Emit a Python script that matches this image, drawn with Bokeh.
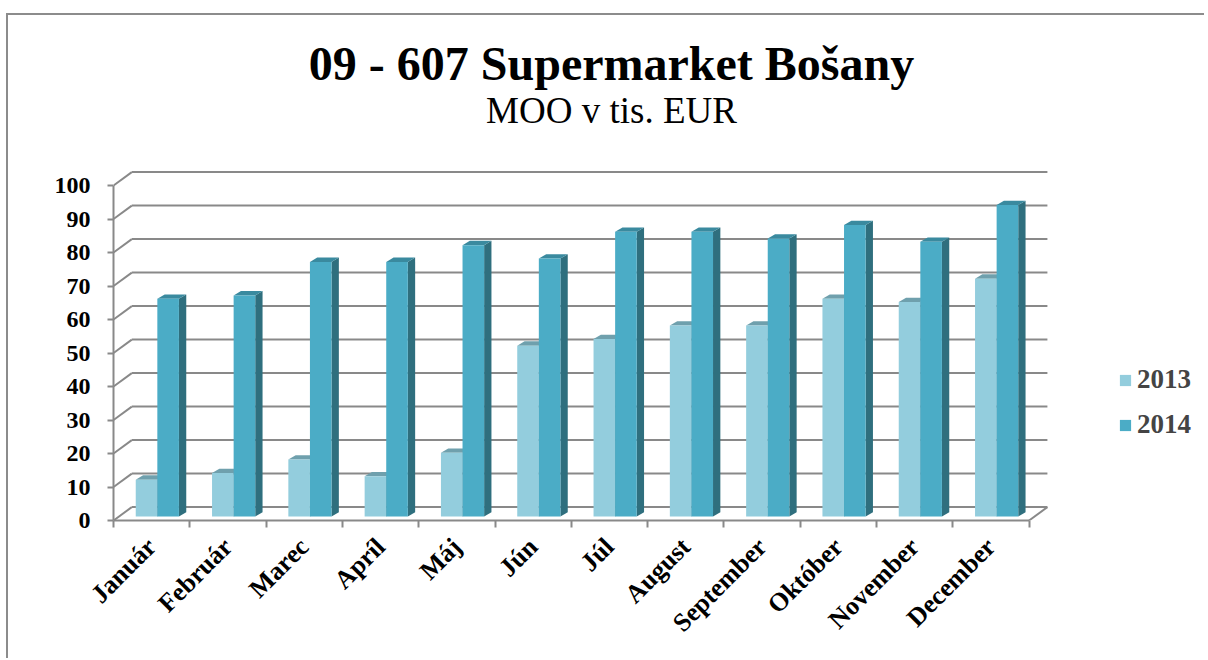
import math
from bokeh.plotting import figure
from bokeh.models import FixedTicker, Legend, LegendItem, Range1d, ColumnDataSource
from bokeh.core.properties import value
from bokeh.embed import file_html
from bokeh.resources import INLINE

# ---------------- data ----------------
months = ["Január", "Február", "Marec", "Apríl", "Máj", "Jún", "Júl",
          "August", "September", "Október", "November", "December"]
v2013 = [11, 13, 17, 12, 19, 51, 53, 57, 57, 65, 64, 71]
v2014 = [65, 66, 76, 76, 81, 77, 85, 85, 83, 87, 82, 93]
y_ticks = [0, 10, 20, 30, 40, 50, 60, 70, 80, 90, 100]
series_names = ["2013", "2014"]
title_text = "09 - 607 Supermarket Bošany"
subtitle_text = "MOO v tis. EUR"

# ---------------- style / geometry ----------------
FONT = "Liberation Serif"
GRID = "#898989"
PX_X, PX_Y = 76.3, 3.35     # pixels per data unit
DX, DY = 0.24, 4.0          # depth of the walls (data units)
BASE = 1.2                  # bar floor height
BW = 0.283                  # bar width
OFF = [-0.067, 0.216]       # bar centre offsets
BDX, BDY = 0.096, 1.28      # bar depth
COL_FRONT = ["#93CDDD", "#4BACC6"]
COL_TOP = ["#6FA0AD", "#3A8A9F"]
COL_SIDE = ["#5E8E9A", "#2F6F7E"]

W, H = 1198, 645
LEFT_B, BOTTOM_B = 105, 140
frame_w = W - LEFT_B
frame_h = H - BOTTOM_B

n = len(months)
idx = list(range(n))

p = figure(width=W, height=H, output_backend="svg", toolbar_location=None,
           title=None,
           x_range=Range1d(-0.5, -0.5 + frame_w / PX_X),
           y_range=Range1d(0, frame_h / PX_Y),
           min_border_left=LEFT_B, min_border_right=0, min_border_top=0,
           min_border_bottom=BOTTOM_B, outline_line_color=None,
           background_fill_color="white", border_fill_color="white")
p.styles = {"margin-top": "13px", "margin-left": "6px",
            "border-left": "2px solid #8c8c8c",
            "border-top": "2px solid #8c8c8c"}
p.xgrid.visible = False
p.ygrid.visible = False

# ---------------- walls / grid ----------------
x_left, x_right = -0.5, n - 0.5
p.segment(x0=[x_left + DX] * len(y_ticks), y0=[t + DY for t in y_ticks],
          x1=[x_right + DX] * len(y_ticks), y1=[t + DY for t in y_ticks],
          line_color=GRID, line_width=2)
p.segment(x0=[x_left] * len(y_ticks), y0=y_ticks,
          x1=[x_left + DX] * len(y_ticks), y1=[t + DY for t in y_ticks],
          line_color=GRID, line_width=2)
p.segment(x0=[x_right], y0=[0], x1=[x_right + DX], y1=[DY],
          line_color=GRID, line_width=2)

# ---------------- bars ----------------
renderers = []
for s, vals in enumerate([v2013, v2014]):
    lefts = [i + OFF[s] - BW / 2 for i in idx]
    rights = [i + OFF[s] + BW / 2 for i in idx]
    tops = [BASE + v for v in vals]
    side_xs = [[r, r + BDX, r + BDX, r] for r in rights]
    side_ys = [[BASE, BASE + BDY, t + BDY, t] for t in tops]
    top_xs = [[l, r, r + BDX, l + BDX] for l, r in zip(lefts, rights)]
    top_ys = [[t, t, t + BDY, t + BDY] for t in tops]
    p.patches(side_xs, side_ys, fill_color=COL_SIDE[s], line_color=None)
    p.patches(top_xs, top_ys, fill_color=COL_TOP[s], line_color=None)
    src = ColumnDataSource(dict(left=lefts, right=rights, top=tops,
                                bottom=[BASE] * n))
    r = p.quad(left="left", right="right", top="top", bottom="bottom",
               source=src, fill_color=COL_FRONT[s], line_color=None)
    renderers.append(r)

# ---------------- titles (placed above the chart walls) ----------------
title_x = -0.5 + (612 - 114) / PX_X
p.text(x=[title_x], y=[(520 - 63) / PX_Y], text=[title_text],
       text_font=value(FONT), text_font_style="bold", text_font_size="48px",
       text_color="black", text_align="center", text_baseline="middle")
p.text(x=[title_x], y=[(520 - 110) / PX_Y], text=[subtitle_text],
       text_font=value(FONT), text_font_style="normal", text_font_size="37px",
       text_color="black", text_align="center", text_baseline="middle")

# ---------------- axes ----------------
xa = p.xaxis[0]
xa.ticker = FixedTicker(ticks=idx, minor_ticks=[i - 0.5 for i in range(n + 1)])
xa.major_label_overrides = {i: m for i, m in enumerate(months)}
xa.bounds = (x_left, x_right)
xa.axis_line_color = GRID
xa.axis_line_width = 2
xa.major_tick_line_color = None
xa.minor_tick_line_color = GRID
xa.minor_tick_line_width = 2
xa.minor_tick_in = 0
xa.minor_tick_out = 7
xa.major_label_orientation = math.pi / 4
xa.major_label_text_font = FONT
xa.major_label_text_font_style = "bold"
xa.major_label_text_font_size = "26px"
xa.major_label_text_color = "black"
xa.major_label_standoff = 15

ya = p.yaxis[0]
ya.ticker = FixedTicker(ticks=y_ticks, minor_ticks=[])
ya.bounds = (0, 100)
ya.axis_line_color = GRID
ya.axis_line_width = 2
ya.major_tick_line_color = GRID
ya.major_tick_line_width = 2
ya.major_tick_in = 0
ya.major_tick_out = 6
ya.minor_tick_line_color = None
ya.major_label_text_font = FONT
ya.major_label_text_font_style = "bold"
ya.major_label_text_font_size = "24px"
ya.major_label_text_color = "black"
ya.major_label_standoff = 17

# ---------------- legend ----------------
legend = Legend(items=[LegendItem(label=series_names[i], renderers=[renderers[i]])
                       for i in range(2)],
                location=(1005, 80), orientation="vertical",
                glyph_width=14, glyph_height=14, label_standoff=5,
                label_text_font=FONT, label_text_font_style="bold",
                label_text_font_size="27px", label_height=25, spacing=14,
                padding=0, margin=0, border_line_color=None,
                background_fill_alpha=0)
p.add_layout(legend)

open("out.html", "w").write(file_html(p, INLINE))
